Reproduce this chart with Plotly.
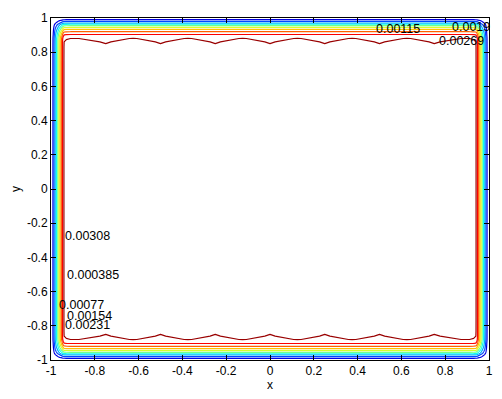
import numpy as np
import plotly.graph_objects as go

# contour levels (multiples of 0.000385) and their line colours (jet)
levels = [0.000385, 0.00077, 0.001155, 0.00154, 0.001925,
          0.00231, 0.002695, 0.00308, 0.003465, 0.00385]
level_colors = ["#0000e3", "#0047ff", "#00acff", "#0fffef", "#72ff8c",
                "#d6ff29", "#ffc400", "#ff6100", "#fd0000", "#990000"]

# plateau value of the field
Z0 = 0.00395

# wall-normal profile near the left/right walls (distance -> fraction of plateau)
side_d = [0, 0.005, 0.01, 0.015, 0.02, 0.025, 0.03, 0.035, 0.04, 0.045,
          0.05, 0.055, 0.06, 0.07, 0.09, 0.125]
side_a = [0, 0.055, 0.11, 0.215, 0.31, 0.39, 0.47, 0.565, 0.66, 0.745,
          0.83, 0.93, 0.985, 0.995, 1.0, 1.0]
mid_x = [-0.75, -0.625, -0.5, -0.375, -0.25, -0.125, 0, 0.125, 0.25,
         0.375, 0.5, 0.625, 0.75]
mid_ripple = [0.015, -0.002, 0.015, -0.002, 0.015, -0.002, 0.015,
              -0.002, 0.015, -0.002, 0.015, -0.002, 0.015]

# wall-normal profile near the top/bottom walls
top_d = [0, 0.01, 0.02, 0.03, 0.04, 0.05, 0.06, 0.07, 0.08, 0.09,
         0.10, 0.11, 0.12, 0.14, 0.17, 0.25]
top_b = [0, 0.0975, 0.195, 0.292, 0.44, 0.535, 0.63, 0.71, 0.78, 0.845,
         0.895, 0.94, 0.975, 0.99, 0.998, 1.0]
top_w = [0, 0, 0, 0, 0, 0, 0, 0, 0, 0, 0, 0.5, 1.0, 1.3, 1.0, 0]
mid_y = [-0.5, -0.25, 0, 0.25, 0.5]

# labels (text, x, y)
label_text = ["0.00115", "0.0019", "0.00269", "0.00308", "0.000385",
              "0.00077", "0.00154", "0.00231"]
label_x = [0.475, 0.822, 0.763, -0.945, -0.936, -0.973, -0.936, -0.945]
label_y = [0.936, 0.950, 0.868, -0.272, -0.50, -0.681, -0.740, -0.798]

tick_vals = [-1, -0.8, -0.6, -0.4, -0.2, 0, 0.2, 0.4, 0.6, 0.8, 1]
tick_text = ["-1", "-0.8", "-0.6", "-0.4", "-0.2", "0", "0.2", "0.4", "0.6", "0.8", "1"]

FONT = "Liberation Sans, Arial, sans-serif"

# ---- build grid from the profiles ----
xs = [-1 + d for d in side_d] + mid_x + [1 - d for d in reversed(side_d)]
a_vals = side_a + [1.0] * len(mid_x) + list(reversed(side_a))
r_vals = [0.0] * len(side_d) + mid_ripple + [0.0] * len(side_d)
ys = [-1 + d for d in top_d] + mid_y + [1 - d for d in reversed(top_d)]
b_vals = top_b + [1.0] * len(mid_y) + list(reversed(top_b))
w_vals = top_w + [0.0] * len(mid_y) + list(reversed(top_w))

z = Z0 * (np.outer(b_vals, a_vals) - np.outer(w_vals, r_vals))

fig = go.Figure()
for lev, col in zip(levels, level_colors):
    fig.add_trace(go.Contour(
        x=xs, y=ys, z=z,
        autocontour=False,
        contours=dict(start=lev, end=lev, size=1e-4, coloring="none"),
        line=dict(color=col, width=1.2, smoothing=0),
        showscale=False, hoverinfo="skip",
    ))

for t, lx, ly in zip(label_text, label_x, label_y):
    fig.add_annotation(x=lx, y=ly, text=t, showarrow=False,
                       xanchor="left", yanchor="middle",
                       font=dict(family=FONT, size=12.5, color="black"))

axis_common = dict(
    range=[-1, 1], tickvals=tick_vals, ticktext=tick_text,
    showgrid=False, zeroline=False, ticks="inside", ticklen=5,
    tickcolor="black", mirror="allticks", showline=True,
    linecolor="black", linewidth=1, automargin=False,
    tickfont=dict(family=FONT, size=12, color="black"),
)
fig.update_xaxes(**axis_common, title=dict(text="x", standoff=3,
                 font=dict(family=FONT, size=12, color="black")))
fig.update_yaxes(**axis_common, title=dict(text="y", standoff=3,
                 font=dict(family=FONT, size=12, color="black")))

# the page body adds an 8px offset, so the figure is sized/margined to compensate
fig.update_layout(
    width=494, height=391,
    margin=dict(l=43, r=13, t=10, b=39),
    plot_bgcolor="white", paper_bgcolor="white",
    showlegend=False,
)

fig.write_html("out.html")
